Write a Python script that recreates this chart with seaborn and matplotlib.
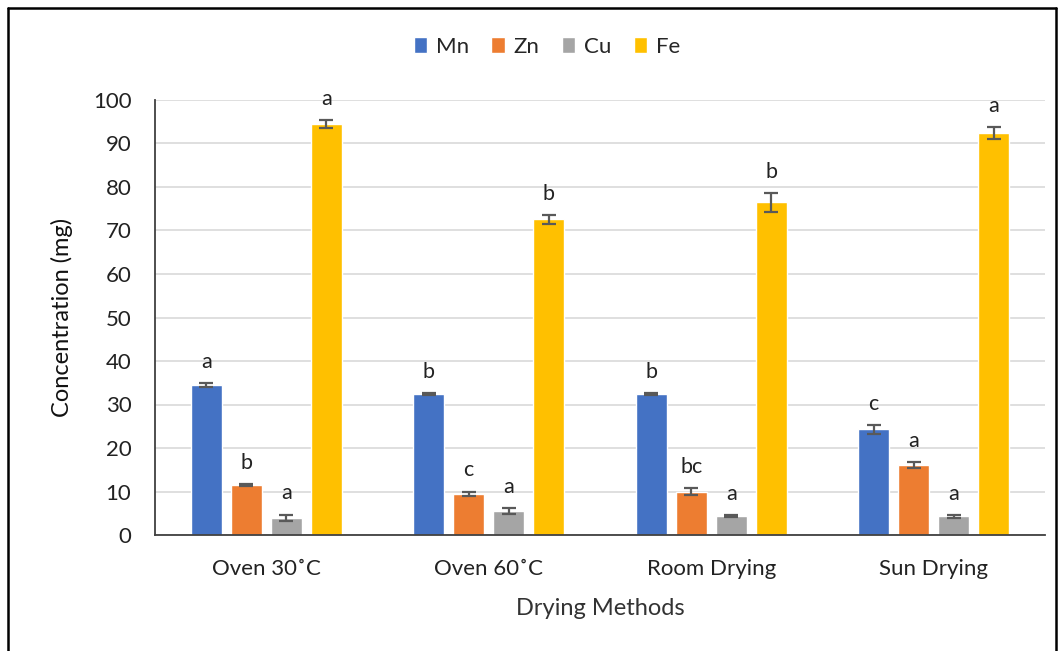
import numpy as np
import pandas as pd
import matplotlib
matplotlib.use("Agg")
import matplotlib.pyplot as plt
from matplotlib.lines import Line2D
import seaborn as sns

# mineral concentrations per drying method
methods = ["Oven 30˚C", "Oven 60˚C", "Room Drying", "Sun Drying"]
minerals = ["Mn", "Zn", "Cu", "Fe"]
mn = [34.5, 32.4, 32.4, 24.3]
zn = [11.5, 9.5, 10.0, 16.0]
cu = [4.0, 5.5, 4.3, 4.3]
fe = [94.5, 72.6, 76.5, 92.4]
mn_err = [0.4, 0.3, 0.2, 1.0]
zn_err = [0.3, 0.5, 0.7, 0.7]
cu_err = [0.7, 0.6, 0.2, 0.3]
fe_err = [0.9, 1.0, 2.2, 1.3]
mn_let = ["a", "b", "b", "c"]
zn_let = ["b", "c", "bc", "a"]
cu_let = ["a", "a", "a", "a"]
fe_let = ["a", "b", "b", "a"]

colors = ["#4472C4", "#ED7D31", "#A5A5A5", "#FFC000"]

df = pd.DataFrame({
    "method": methods * 4,
    "mineral": np.repeat(minerals, 4),
    "value": mn + zn + cu + fe,
})
errs = [mn_err, zn_err, cu_err, fe_err]
letters = [mn_let, zn_let, cu_let, fe_let]

sns.set_theme(style="white")
plt.rcParams["font.family"] = ["Lato", "DejaVu Sans"]

fig = plt.figure(figsize=(10.62, 6.51), dpi=100)
ax = fig.add_axes([155 / 1062, 1 - 535 / 651, 890 / 1062, 435 / 651])

sns.barplot(data=df, x="method", y="value", hue="mineral", order=methods,
            hue_order=minerals, palette=colors, width=0.72, gap=0.22,
            saturation=1, errorbar=None, ax=ax, legend=True, zorder=2)

for cont, err, labs in zip(ax.containers, errs, letters):
    xs = [p.get_x() + p.get_width() / 2 for p in cont.patches]
    ys = [p.get_height() for p in cont.patches]
    ax.errorbar(xs, ys, yerr=err, fmt="none", ecolor="#595959",
                elinewidth=1.6, capsize=5, capthick=1.6, zorder=3)
    for x, y, e, t in zip(xs, ys, err, labs):
        ax.annotate(t, (x, y + e), xytext=(0, 8), textcoords="offset points",
                    ha="center", va="bottom", fontsize=15.5, color="#222222")

ax.set_xlim(-0.5, len(methods) - 0.5)
ax.set_ylim(0, 100)
ax.set_yticks(range(0, 101, 10))
ax.yaxis.grid(True, color="#D9D9D9", linewidth=1.2, zorder=0)
ax.set_axisbelow(True)
for s in ["right", "top"]:
    ax.spines[s].set_visible(False)
for s in ["left", "bottom"]:
    ax.spines[s].set_color("#404040")
    ax.spines[s].set_linewidth(1.3)
ax.tick_params(axis="both", labelsize=16, colors="#222222", length=0)
ax.tick_params(axis="x", pad=17)
ax.tick_params(axis="y", pad=17)
ax.set_xlabel("Drying Methods", fontsize=17, color="#333333", labelpad=14)
ax.set_ylabel("Concentration (mg)", fontsize=17, color="#111111", labelpad=14)

handles, labels = ax.get_legend_handles_labels()
ax.legend_.remove()
fig.legend(handles, labels, loc="center", bbox_to_anchor=(547 / 1062, 1 - 47 / 651),
           ncol=4, frameon=False, fontsize=16, handlelength=0.6, handleheight=0.7,
           handletextpad=0.4, columnspacing=1.0)

# outer frame around the chart
for xy in [([8, 8], [651, 8]), ([8, 1056], [8, 8]), ([1056, 1056], [8, 651])]:
    fig.add_artist(Line2D(np.array(xy[0]) / 1062, 1 - np.array(xy[1]) / 651,
                          color="black", linewidth=1.8))

fig.savefig("out.png", dpi=100)
